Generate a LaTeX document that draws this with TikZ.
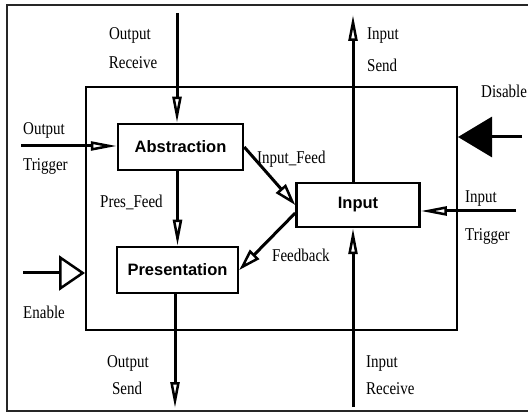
\documentclass[tikz,border=0pt]{standalone}
\usepackage{fontspec}
\usepackage{graphicx}
\setmainfont{Liberation Serif}
\newfontfamily\boxfont{Liberation Sans}
\usetikzlibrary{arrows.meta}
% serif port labels are set slightly condensed (taller than wide)
\newcommand\tall[1]{\scalebox{1}[1.2]{#1}}
\tikzset{
  block/.style={draw, line width=2.5pt, inner sep=0pt,
    font=\boxfont\bfseries\fontsize{16.5}{18}\selectfont},
  lbl/.style={inner sep=0pt, anchor=base west, font=\fontsize{15}{18}\selectfont},
  lblc/.style={lbl, anchor=base},
  wire/.style={line width=3pt},
  narrow/.style={wire, -{Triangle[open, length=26pt, width=9pt, line width=2.5pt]}},
  slanted/.style={wire, -{Triangle[open, length=22pt, width=13pt, line width=2.5pt]}},
  wideopen/.style={wire, -{Triangle[open, length=26pt, width=35pt, line width=2.5pt]}},
  widefill/.style={wire, -{Triangle[length=34pt, width=40pt]}},
}
\begin{document}
\begin{tikzpicture}[x=1pt, y=-1pt]
  \useasboundingbox (0,0) rectangle (528,414);

  % outer frame (open on the right)
  \draw[line width=1.5pt, black!85] (528,5) -- (7,5) -- (7,411) -- (528,411);

  % enclosing component boundary
  \node[draw, line width=2pt, minimum width=371pt, minimum height=243pt, inner sep=0pt]
    (inner) at (271.5,208.5) {};

  % the three agents
  \node[block, minimum width=125pt, minimum height=46pt] (abs)  at (180.5,147) {Abstraction};
  \node[block, minimum width=121pt, minimum height=46pt] (pres) at (177.5,270) {Presentation};
  \node[block, minimum width=123pt, minimum height=44pt] (inp)  at (358,205)   {Input};

  % free ends of the external ports
  \coordinate (orcv) at (177,13);
  \coordinate (otrg) at (21,146);
  \coordinate (osnd) at (175,408);
  \coordinate (isnd) at (353,15);
  \coordinate (ircv) at (353,407);
  \coordinate (itrg) at (516,211);
  \coordinate (dis)  at (522,137);
  \coordinate (ena)  at (23,273);

  % connectors
  \draw[narrow] (orcv) -- (orcv |- abs.north);
  \draw[narrow] (otrg) -- (otrg -| abs.west);
  \draw[narrow] (pres.north |- abs.south) -- (pres.north);
  \draw[narrow] (osnd |- pres.south) -- (osnd);
  \draw[narrow] (isnd |- inp.north) -- (isnd);
  \draw[narrow] (ircv) -- (ircv |- inp.south);
  \draw[narrow] (itrg) -- (itrg -| inp.east);
  \draw[slanted] (abs.east) -- (inp.west);
  \draw[slanted] ([yshift=-8pt]inp.west) -- (pres.east);
  \draw[wideopen] (ena) -- (ena -| inner.west);
  \draw[widefill] (dis) -- (dis -| inner.east);

  % port labels
  \node[lblc] (l1)  at (130,40)  {\tall{Output}};
  \node[lblc] (l2)  at (133,69)  {\tall{Receive}};
  \node[lbl]  (l3)  at (23,135)  {\tall{Output}};
  \node[lbl]  (l4)  at (23,171)  {\tall{Trigger}};
  \node[lbl]  (l5)  at (100,208) {\tall{Pres\_Feed}};
  \node[lbl]  (l6)  at (23,319)  {\tall{Enable}};
  \node[lblc] (l7)  at (128,367) {\tall{Output}};
  \node[lblc] (l8)  at (127,394) {\tall{Send}};
  \node[lbl]  (l9)  at (367,40)  {\tall{Input}};
  \node[lbl]  (l10) at (367,72)  {\tall{Send}};
  \node[lbl]  (l11) at (481,98)  {\tall{Disable}};
  \node[lbl]  (l12) at (465,203) {\tall{Input}};
  \node[lbl]  (l13) at (465,241) {\tall{Trigger}};
  \node[lbl]  (l14) at (366,367) {\tall{Input}};
  \node[lbl]  (l15) at (366,394) {\tall{Receive}};
  \node[lbl]  (l16) at (272,262) {\tall{Feedback}};
  \node[lbl]  (l17) at (257,164) {\tall{Input\_Feed}};
\end{tikzpicture}
\end{document}
